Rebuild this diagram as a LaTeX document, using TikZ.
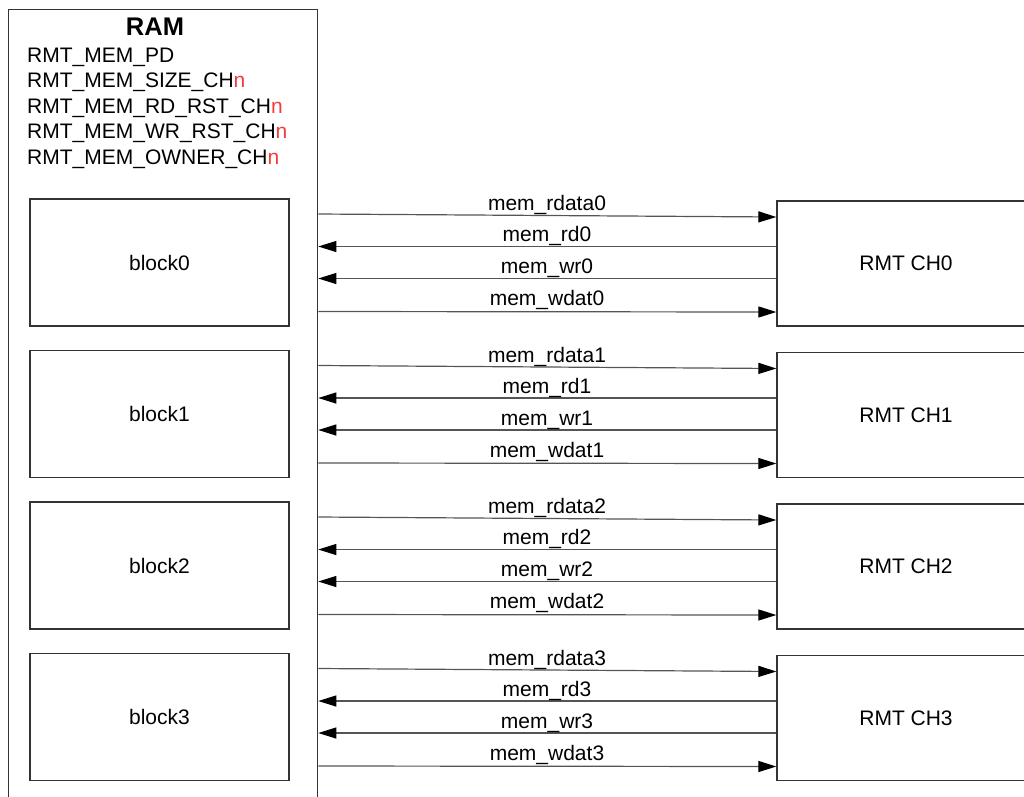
\documentclass[tikz,border=0pt]{standalone}
\usepackage{fontspec}
\setmainfont{Liberation Sans}
\usetikzlibrary{arrows.meta}
\definecolor{ln}{HTML}{333333}
\definecolor{sigc}{HTML}{555555}
\definecolor{redn}{HTML}{F03C3C}
\begin{document}
\begin{tikzpicture}[x=1pt,y=-1pt,
  font=\fontsize{21}{25.5}\selectfont,
  box/.style={draw=ln, line width=1.3pt, inner sep=0pt},
  sig/.style={draw=sigc, line width=1.2pt, -{Triangle[length=18pt,width=11pt,color=black]}},
  lbl/.style={anchor=base, inner sep=0pt},
  reg/.style={anchor=base west, inner sep=0pt}]
\useasboundingbox (0,0) rectangle (1024,796);
\clip (0,0) rectangle (1024,796);
\node[box, minimum width=309pt, minimum height=801pt, anchor=north west] (ram) at (8,9) {};
\node[lbl, font=\bfseries\fontsize{25.5}{30}\selectfont] (title) at (155,35) {RAM};
\node[reg] (r1) at (27,62) {RMT\_MEM\_PD};
\node[reg] (r2) at (27,87.5) {RMT\_MEM\_SIZE\_CH\textcolor{redn}{n}};
\node[reg] (r3) at (27,113) {RMT\_MEM\_RD\_RST\_CH\textcolor{redn}{n}};
\node[reg] (r4) at (27,138.5) {RMT\_MEM\_WR\_RST\_CH\textcolor{redn}{n}};
\node[reg] (r5) at (27,164) {RMT\_MEM\_OWNER\_CH\textcolor{redn}{n}};
\foreach \i in {0,1,2,3}{
  \pgfmathsetmacro{\o}{151.5*\i}
  \node[box, minimum width=259pt, minimum height=127pt] (blk\i) at (159.5,262.5+\o) {block\i};
  \node[box, minimum width=258pt, minimum height=125pt] (ch\i) at (906,263.5+\o) {RMT CH\i};
  \pgfmathsetmacro{\ya}{214+\o}\pgfmathsetmacro{\yb}{217+\o}
  \pgfmathsetmacro{\yc}{246.5+\o}\pgfmathsetmacro{\yd}{278.5+\o}
  \pgfmathsetmacro{\ye}{311.5+\o}\pgfmathsetmacro{\yf}{312+\o}
  \draw[sig] (ram.east |- 0,\ya) -- (ch\i.west |- 0,\yb);
  \draw[sig] (ch\i.west |- 0,\yc) -- (ram.east |- 0,\yc);
  \draw[sig] (ch\i.west |- 0,\yd) -- (ram.east |- 0,\yd);
  \draw[sig] (ram.east |- 0,\ye) -- (ch\i.west |- 0,\yf);
  \node[lbl] (la\i) at (547,210.7+\o) {mem\_rdata\i};
  \node[lbl] (lb\i) at (547,241.7+\o) {mem\_rd\i};
  \node[lbl] (lc\i) at (547,273.5+\o) {mem\_wr\i};
  \node[lbl] (ld\i) at (547,305.5+\o) {mem\_wdat\i};
}
\end{tikzpicture}
\end{document}
